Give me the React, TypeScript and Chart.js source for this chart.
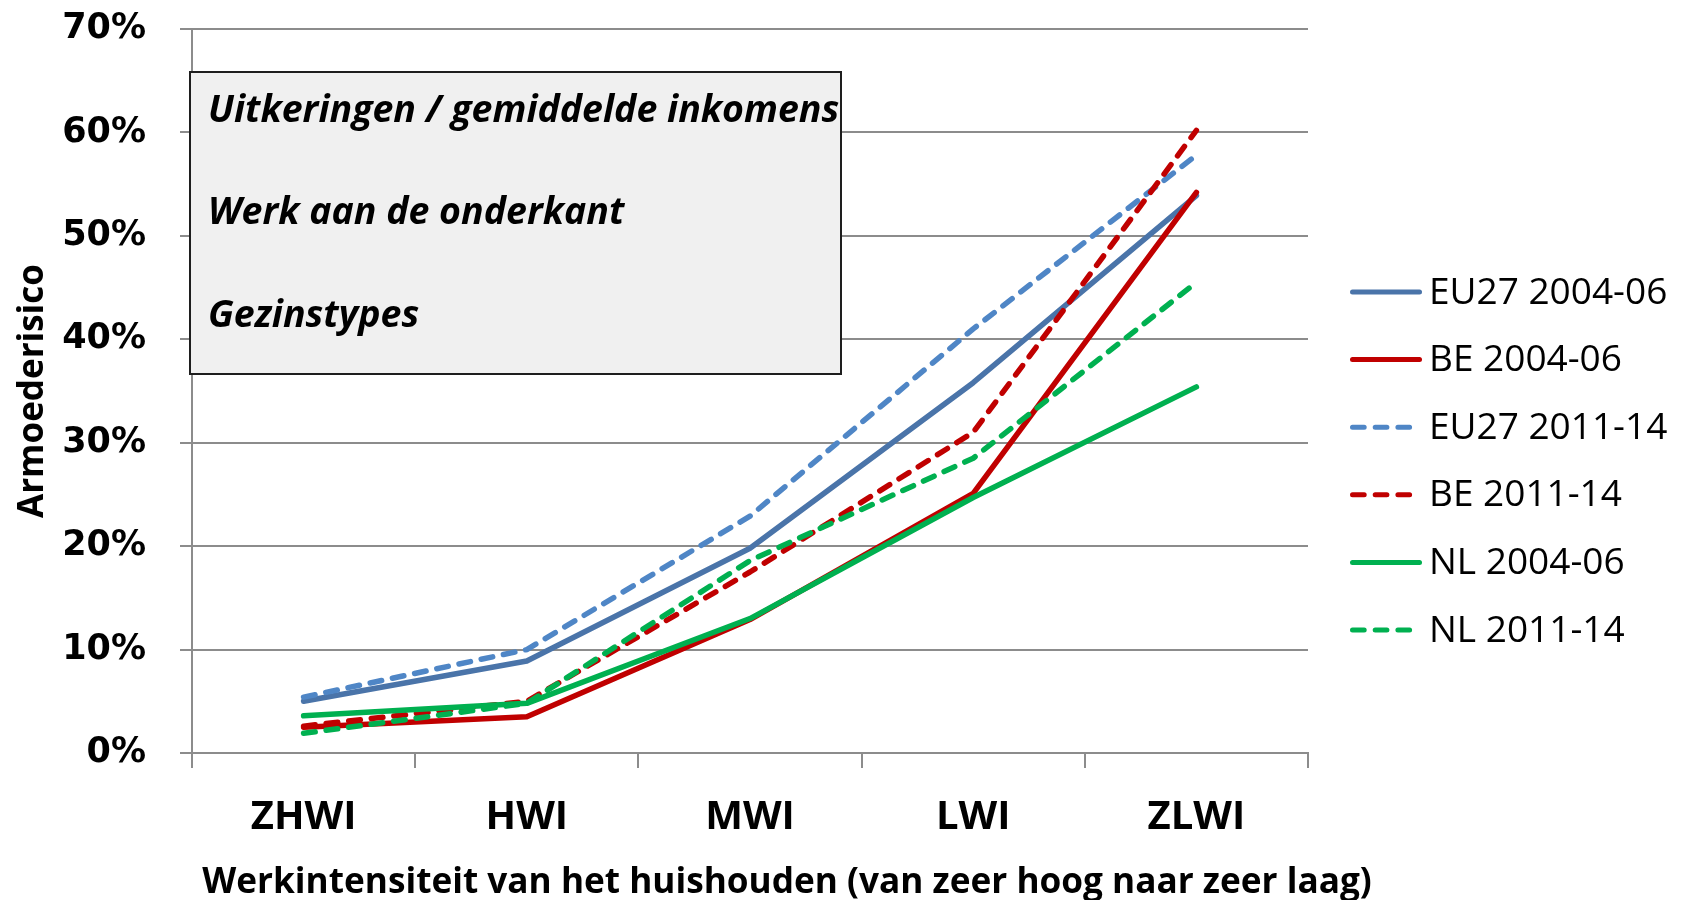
import React, { useEffect, useRef } from "react";
import { Chart, registerables } from "chart.js";

Chart.register(...registerables);

const categories = ["ZHWI", "HWI", "MWI", "LWI", "ZLWI"];
const eu27_0406 = [5.0, 8.9, 19.8, 35.8, 53.9];
const be_0406 = [2.5, 3.5, 12.9, 25.1, 54.2];
const eu27_1114 = [5.4, 10.0, 22.9, 41.0, 57.8];
const be_1114 = [2.6, 5.0, 17.5, 31.0, 60.2];
const nl_0406 = [3.6, 4.8, 13.0, 24.7, 35.4];
const nl_1114 = [1.9, 4.8, 18.6, 28.5, 45.5];

const seriesLabels = [
  "EU27 2004-06",
  "BE 2004-06",
  "EU27 2011-14",
  "BE 2011-14",
  "NL 2004-06",
  "NL 2011-14",
];
const yTicks = [0, 10, 20, 30, 40, 50, 60, 70];
const xTitle = "Werkintensiteit van het huishouden (van zeer hoog naar zeer laag)";
const yTitle = "Armoederisico";
const boxLines = ["Uitkeringen / gemiddelde inkomens", "Werk aan de onderkant", "Gezinstypes"];

const BLUE = "#4a74a9";
const BLUE_L = "#4f86c6";
const RED = "#c00000";
const GREEN = "#00b050";
const GRID = "#8c8c8c";
const DASH = [11.7, 11];

const boxPlugin = {
  id: "infoBox",
  beforeDatasetsDraw(chart: any) {
    const ctx = chart.ctx;
    ctx.save();
    const x = 190, y = 72, w = 651, h = 302;
    ctx.fillStyle = "#f0f0f0";
    ctx.fillRect(x, y, w, h);
    ctx.lineWidth = 2;
    ctx.strokeStyle = "#1e1e1e";
    ctx.strokeRect(x, y, w, h);
    ctx.beginPath();
    ctx.rect(x, y, w, h);
    ctx.clip();
    ctx.fillStyle = "#000";
    ctx.font = "italic bold 37.5px 'Open Sans'";
    ctx.textBaseline = "alphabetic";
    ctx.textAlign = "left";
    const bases = [122, 224, 327];
    boxLines.forEach((t, i) => ctx.fillText(t, 208, bases[i]));
    ctx.restore();
  },
};

const xTitlePlugin = {
  id: "xTitle",
  afterDraw(chart: any) {
    const ctx = chart.ctx;
    ctx.save();
    ctx.fillStyle = "#000";
    ctx.font = "bold 35.2px 'Open Sans'";
    ctx.textAlign = "center";
    ctx.textBaseline = "middle";
    ctx.fillText(xTitle, 787, 883);
    ctx.restore();
  },
};

const legendPlugin = {
  id: "customLegend",
  afterDraw(chart: any) {
    const ctx = chart.ctx;
    ctx.save();
    chart.data.datasets.forEach((ds: any, i: number) => {
      const y = 292 + i * 67.6;
      ctx.strokeStyle = ds.borderColor;
      ctx.lineWidth = 5;
      ctx.lineCap = "round";
      const dashed = ds.borderDash && ds.borderDash.length > 0;
      ctx.setLineDash(dashed ? ds.borderDash : []);
      ctx.beginPath();
      ctx.moveTo(1352.5, y);
      ctx.lineTo(dashed ? 1411 : 1419.5, y);
      ctx.stroke();
      ctx.setLineDash([]);
      ctx.fillStyle = "#000";
      ctx.font = "37px 'Open Sans'";
      ctx.textBaseline = "middle";
      ctx.textAlign = "left";
      ctx.fillText(ds.label, 1429, y + 1);
    });
    ctx.restore();
  },
};

function mk(label: string, data: number[], color: string, dashed: boolean, order: number) {
  return {
    label,
    data,
    borderColor: color,
    backgroundColor: color,
    borderWidth: 5.5,
    borderDash: dashed ? DASH : [],
    borderCapStyle: "round",
    borderJoinStyle: "round",
    pointRadius: 0,
    pointHoverRadius: 0,
    tension: 0,
    fill: false,
    order,
  };
}

export default function App() {
  const ref = useRef<HTMLCanvasElement | null>(null);
  useEffect(() => {
    if (!ref.current) return;
    Chart.defaults.font.family = "'Open Sans'";
    const chart = new Chart(ref.current, {
      type: "line",
      data: {
        labels: categories,
        datasets: [
          mk(seriesLabels[0], eu27_0406, BLUE, false, 6),
          mk(seriesLabels[1], be_0406, RED, false, 5),
          mk(seriesLabels[2], eu27_1114, BLUE_L, true, 4),
          mk(seriesLabels[3], be_1114, RED, true, 3),
          mk(seriesLabels[4], nl_0406, GREEN, false, 2),
          mk(seriesLabels[5], nl_1114, GREEN, true, 1),
        ] as any,
      },
      options: {
        animation: false,
        responsive: false,
        devicePixelRatio: 1,
        layout: { padding: { top: 29, right: 382, left: 0, bottom: 0 } },
        plugins: { legend: { display: false }, tooltip: { enabled: false } },
        scales: {
          x: {
            type: "category",
            offset: true,
            grid: {
              display: true,
              drawOnChartArea: false,
              drawTicks: true,
              tickLength: 15,
              offset: true,
              color: GRID,
              lineWidth: 2,
            },
            border: { display: true, color: GRID, width: 2 },
            ticks: {
              color: "#000",
              font: { family: "'Open Sans'", weight: "bold", size: 40 },
              padding: 26,
              maxRotation: 0,
              autoSkip: false,
            },
            title: { display: false },
            afterFit: (s: any) => {
              s.height = 147;
              s.paddingLeft = 0;
              s.paddingRight = 0;
            },
          },
          y: {
            min: 0,
            max: 70,
            afterBuildTicks: (s: any) => {
              s.ticks = yTicks.map((v) => ({ value: v }));
            },
            ticks: {
              color: "#000",
              font: { family: "'DejaVu Sans'", weight: "bold", size: 35 },
              padding: 34,
              callback: (v: any) => v + "%",
            },
            grid: { color: GRID, lineWidth: 2, tickLength: 12, drawTicks: true },
            border: { display: true, color: GRID, width: 2 },
            title: {
              display: true,
              text: yTitle,
              color: "#000",
              font: { family: "'Open Sans'", weight: "bold", size: 35 },
              padding: { top: 12, bottom: 0 },
            },
            afterFit: (s: any) => {
              s.width = 192;
              s.paddingTop = 0;
              s.paddingBottom = 0;
            },
          },
        },
      } as any,
      plugins: [boxPlugin, legendPlugin, xTitlePlugin],
    });
    return () => chart.destroy();
  }, []);
  return (
    <div style={{ position: "fixed", left: 0, top: 0, width: 1690, height: 900, background: "#fff" }}>
      <canvas ref={ref} width={1690} height={900} style={{ width: 1690, height: 900, display: "block" }} />
    </div>
  );
}
